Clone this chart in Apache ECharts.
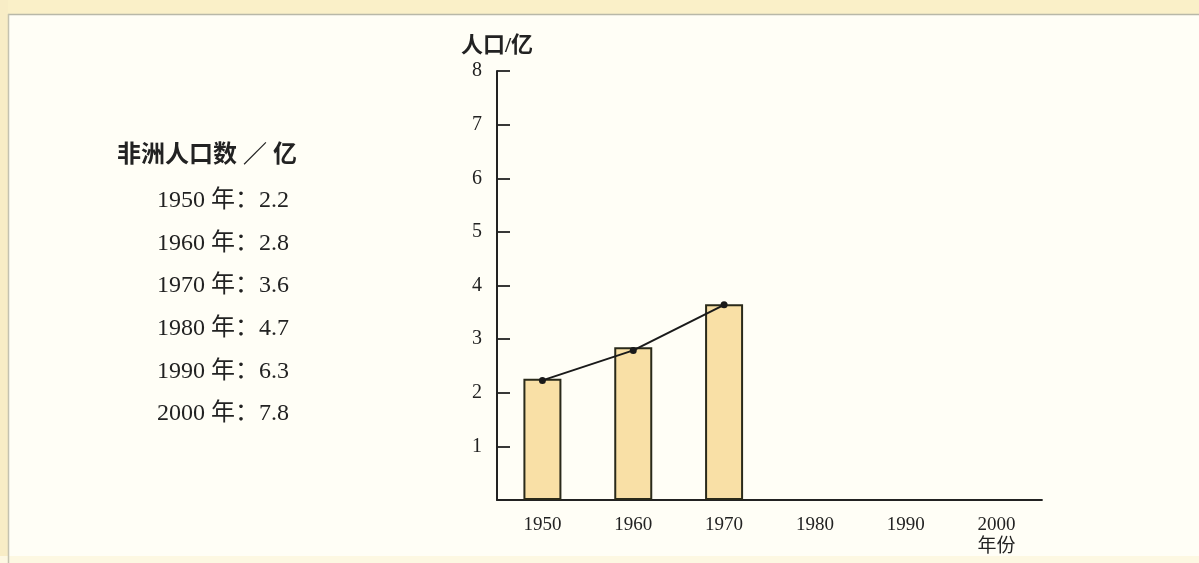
<!DOCTYPE html>
<html>
<head>
<meta charset="utf-8">
<script src="https://cdn.jsdelivr.net/npm/echarts@6/dist/echarts.min.js"></script>
<style>
html,body{margin:0;padding:0;background:#fffef6;}
#c{width:1199px;height:563px;}
</style>
</head>
<body>
<div id="c"></div>
<script>
const categories = ['1950', '1960', '1970', '1980', '1990', '2000'];
const barValues = [2.26, 2.85, 3.65, null, null, null];
const lineValues = [2.23, 2.79, 3.64, null, null, null];
const yTicks = [0, 1, 2, 3, 4, 5, 6, 7, 8];
const listTitle = '非洲人口数 ／ 亿';
const listYears = ['1950', '1960', '1970', '1980', '1990', '2000'];
const listValues = ['2.2', '2.8', '3.6', '4.7', '6.3', '7.8'];

const serif = '"Liberation Serif", "DejaVu Serif", "Noto Sans CJK SC", serif';
const ink = '#222222';

const chart = echarts.init(document.getElementById('c'));

const graphics = [
  { type: 'rect', z: -10, shape: { x: 0, y: 0, width: 1199, height: 563 }, style: { fill: '#fffef6' }, silent: true },
  { type: 'rect', z: -9, shape: { x: 0, y: 0, width: 1199, height: 14 }, style: { fill: '#faf0c8' }, silent: true },
  { type: 'rect', z: -9, shape: { x: 0, y: 0, width: 8, height: 563 }, style: { fill: '#f8edc6' }, silent: true },
  { type: 'rect', z: -9, shape: { x: 0, y: 556, width: 1199, height: 7 }, style: { fill: '#fdf8e2' }, silent: true },
  { type: 'line', z: -8, shape: { x1: 8, y1: 14.5, x2: 1199, y2: 14.5 }, style: { stroke: '#b8b8a8', lineWidth: 1.5 }, silent: true },
  { type: 'line', z: -8, shape: { x1: 8.5, y1: 14, x2: 8.5, y2: 563 }, style: { stroke: '#c4c2b0', lineWidth: 1.5 }, silent: true },
  { type: 'text', left: 117, top: 144, style: { text: listTitle, font: 'bold 24px ' + serif, fill: ink } }
];
listYears.forEach((y, i) => {
  graphics.push({
    type: 'text', left: 157, top: 189 + i * 42.6,
    style: { text: y + ' 年：' + listValues[i], font: '24px ' + serif, fill: ink }
  });
});

chart.setOption({
  animation: false,
  backgroundColor: 'transparent',
  graphic: graphics,
  grid: { left: 497, right: 157, top: 71, bottom: 63, containLabel: false },
  xAxis: {
    type: 'category',
    data: categories,
    boundaryGap: true,
    axisLine: { lineStyle: { color: ink, width: 1.8 } },
    axisTick: { inside: true, alignWithLabel: true, length: 6, lineStyle: { color: ink, width: 1.5 } },
    axisLabel: {
      color: ink, fontFamily: serif, fontSize: 19, margin: 14, lineHeight: 22,
      formatter: (v, i) => i === categories.length - 1 ? v + '\n年份' : v
    },
    splitLine: { show: false }
  },
  yAxis: {
    type: 'value',
    min: yTicks[0], max: yTicks[yTicks.length - 1], interval: 1,
    name: '人口/亿',
    nameLocation: 'end',
    nameGap: 14,
    nameTextStyle: { color: ink, fontFamily: serif, fontSize: 22, fontWeight: 'bold', align: 'center' },
    axisLine: { show: true, lineStyle: { color: ink, width: 2 } },
    axisTick: { show: true, inside: true, length: 13, lineStyle: { color: ink, width: 1.8 } },
    axisLabel: { color: ink, fontFamily: serif, fontSize: 20, margin: 15,
      formatter: v => v === 0 ? '' : String(v) },
    splitLine: { show: false }
  },
  series: [
    {
      type: 'bar',
      data: barValues,
      barWidth: 38,
      itemStyle: { color: '#f9e0a6', borderColor: '#2a2a1a', borderWidth: 2 },
      z: 2
    },
    {
      type: 'line',
      data: lineValues,
      symbol: 'circle',
      symbolSize: 7,
      lineStyle: { color: '#1a1a1a', width: 2 },
      itemStyle: { color: '#1a1a1a' },
      z: 3
    }
  ]
});
</script>
</body>
</html>
